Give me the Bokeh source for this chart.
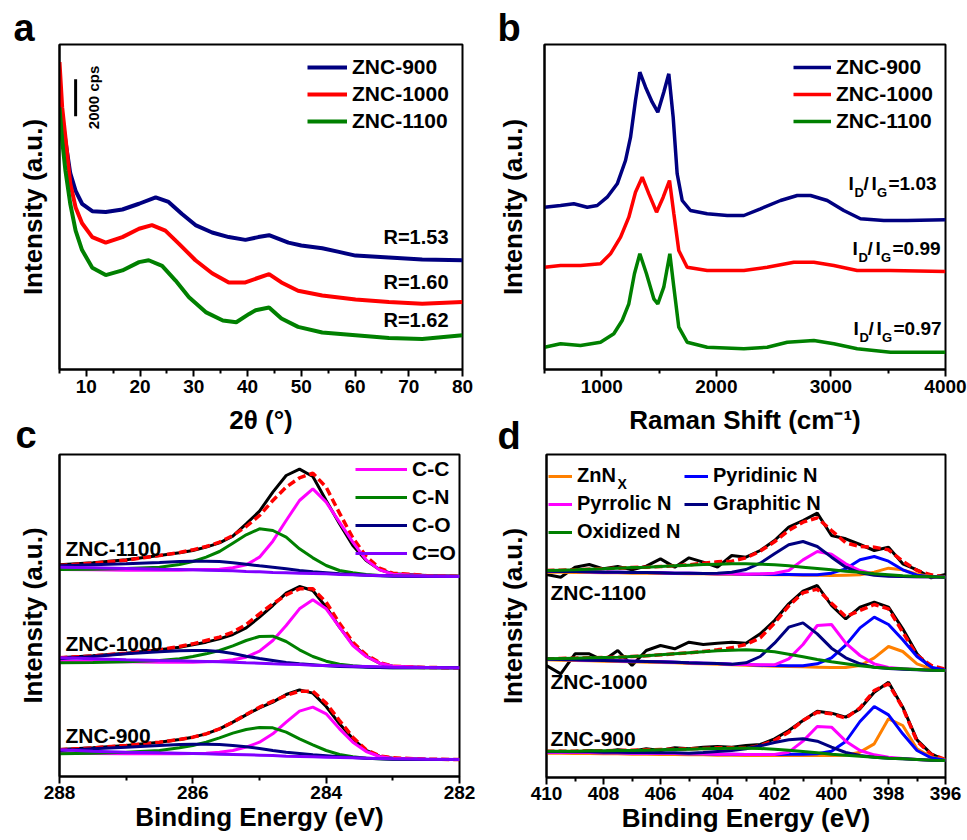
import math
from bokeh.plotting import figure
from bokeh.models import Range1d, Legend, LegendItem, Label, FixedTicker
from bokeh.layouts import row, column
from bokeh.embed import file_html
from bokeh.resources import INLINE

FONT = "Liberation Sans"
NAVY = "#000080"
RED = "#FF0000"
GREEN = "#008000"
MAGENTA = "#FF00FF"
PURPLE = "#8000FF"
BLUE = "#0000FF"
ORANGE = "#FF8000"

# ---------------- Panel a : XRD (cps) ----------------
a_ticks = [10, 20, 30, 40, 50, 60, 70, 80]
a_minor = [5, 15, 25, 35, 45, 55, 65, 75]
a_x_900 = [5, 6.1, 7, 8, 9.2, 11.1, 13.6, 16.7, 19.8, 22.9, 25.3, 27.8, 30.3, 33.4, 36.5, 39.6, 42, 44, 47.6, 50, 53.9, 57, 60.1, 66.3, 72.5, 80]
a_y_900 = [14550, 12350, 10600, 9650, 8950, 8550, 8500, 8640, 8950, 9300, 9050, 8400, 7800, 7400, 7150, 7000, 7150, 7250, 6850, 6700, 6550, 6350, 6150, 6050, 5940, 5900]
a_x_1000 = [5, 5.5, 6.1, 7, 8, 9.2, 11.1, 13.6, 16.7, 19.8, 22.2, 24.7, 27.2, 30.3, 33.4, 36.5, 39.6, 41.5, 44, 46.3, 49.4, 53.9, 60.1, 66.3, 72.5, 80]
a_y_1000 = [16600, 14150, 12550, 10050, 8750, 7900, 7150, 6850, 7150, 7600, 7800, 7500, 6800, 5900, 5200, 4700, 4700, 4900, 5150, 4700, 4250, 4000, 3780, 3650, 3550, 3650]
a_x_1100 = [5, 5.5, 6.1, 7, 8, 9.2, 11.1, 13.6, 16.7, 19.8, 21.6, 24.1, 26.6, 29.1, 32.2, 35.4, 37.9, 40.3, 41.5, 44, 46.3, 49.4, 53.9, 60.1, 66.3, 72.5, 80]
a_y_1100 = [14150, 12350, 10750, 8950, 7500, 6450, 5500, 5100, 5350, 5800, 5900, 5600, 4800, 3900, 3100, 2650, 2550, 3000, 3200, 3350, 2750, 2300, 2000, 1850, 1700, 1650, 1850]
a_ratio_labels = ["R=1.53", "R=1.60", "R=1.62"]
a_ratio_y = [7150, 4700, 2700]
a_scale_x = [8]
a_scale_y = [13680, 15680]   # 2000 cps bar

# ---------------- Panel b : Raman ----------------
b_ticks = [1000, 2000, 3000, 4000]
b_minor = [500, 1500, 2500, 3500]
b_x_900 = [500, 640, 756, 873, 960, 1047, 1135, 1207, 1251, 1294, 1332, 1382, 1440, 1489, 1541, 1585, 1623, 1658, 1702, 1774, 1920, 2095, 2240, 2385, 2560, 2706, 2822, 2968, 3112, 3258, 3462, 3666, 4000]
b_y_900 = [1623, 1640, 1657, 1623, 1640, 1723, 1857, 2090, 2323, 2690, 2973, 2823, 2673, 2573, 2773, 2957, 2523, 1957, 1690, 1590, 1557, 1540, 1540, 1607, 1690, 1740, 1740, 1690, 1590, 1507, 1490, 1490, 1497]
b_x_1000 = [500, 640, 814, 989, 1076, 1164, 1236, 1294, 1353, 1411, 1478, 1536, 1591, 1629, 1672, 1745, 1920, 2240, 2444, 2676, 2851, 3025, 3229, 3520, 4000]
b_y_1000 = [1023, 1040, 1040, 1057, 1157, 1323, 1523, 1773, 1923, 1757, 1573, 1723, 1890, 1557, 1190, 1023, 990, 990, 1023, 1073, 1073, 1040, 990, 990, 980]
b_x_1100 = [500, 640, 814, 989, 1105, 1178, 1236, 1285, 1332, 1390, 1454, 1489, 1541, 1594, 1629, 1672, 1745, 1920, 2240, 2444, 2619, 2851, 3025, 3229, 3520, 4000]
b_y_1100 = [223, 257, 240, 273, 357, 490, 657, 957, 1157, 957, 707, 657, 823, 1157, 823, 423, 273, 223, 207, 223, 273, 290, 257, 207, 173, 173]
b_ratio_values = ["1.03", "0.99", "0.97"]
b_ratio_x = [3153, 3188, 3197]
b_ratio_y = [1860, 1210, 410]

# ---------------- Panel c : C 1s XPS ----------------
c_ticks = [288, 286, 284, 282]
c_minor = [287, 285, 283]
c_x = [288, 287.5, 287, 286.5, 286.2, 286.0, 285.8, 285.6, 285.4, 285.2, 285.0, 284.8, 284.6, 284.4, 284.2, 284.0, 283.8, 283.6, 283.4, 283.2, 283.0, 282.5, 282.0]
c_1100_raw = [635, 641, 650, 663, 671, 678, 688, 701, 721, 758, 796, 853, 903, 922, 900, 828, 758, 693, 648, 621, 608, 603, 601]
c_1100_fit = [633, 640, 649, 663, 672, 680, 690, 703, 723, 750, 783, 828, 868, 896, 910, 868, 790, 716, 660, 625, 610, 603, 601]
c_1100_cc = [621, 620, 619, 619, 619, 620, 621, 622, 626, 635, 658, 706, 768, 828, 863, 823, 763, 703, 650, 620, 607, 602, 601]
c_1100_cn = [621, 622, 624, 628, 636, 645, 658, 675, 700, 725, 743, 738, 718, 683, 656, 633, 618, 611, 606, 603, 602, 601, 601]
c_1100_co = [632, 635, 638, 642, 645, 646, 646, 645, 641, 637, 632, 628, 623, 618, 614, 611, 608, 606, 604, 602, 601, 600, 600]
c_1100_c2o = [628, 626, 624, 622, 621, 620, 619, 618, 617, 615, 614, 612, 611, 610, 609, 608, 606, 605, 604, 603, 602, 601, 600]
c_1000_raw = [356, 362, 370, 380, 388, 395, 403, 413, 426, 446, 478, 513, 550, 570, 558, 508, 448, 396, 361, 340, 331, 327, 326]
c_1000_fit = [356, 362, 370, 380, 390, 398, 408, 418, 433, 456, 488, 518, 545, 563, 563, 523, 460, 403, 365, 342, 331, 327, 326]
c_1000_cc = [346, 345, 344, 343, 343, 343, 344, 346, 350, 358, 376, 408, 453, 503, 530, 503, 448, 393, 360, 340, 331, 327, 326]
c_1000_cn = [341, 342, 344, 348, 353, 360, 368, 378, 392, 408, 420, 421, 405, 380, 360, 346, 337, 332, 329, 327, 326, 326, 326]
c_1000_co = [353, 360, 368, 374, 377, 378, 378, 375, 369, 361, 354, 348, 342, 338, 335, 332, 330, 329, 328, 327, 326, 326, 326]
c_1000_c2o = [356, 353, 350, 348, 347, 346, 345, 344, 343, 341, 340, 338, 337, 336, 334, 333, 332, 331, 330, 329, 328, 327, 326]
c_900_raw = [81, 86, 93, 103, 111, 118, 128, 143, 163, 185, 206, 223, 246, 260, 250, 210, 158, 113, 78, 61, 55, 52, 51]
c_900_fit = [80, 86, 93, 103, 111, 118, 128, 143, 163, 186, 208, 226, 243, 256, 256, 220, 168, 118, 80, 62, 56, 52, 51]
c_900_cc = [70, 69, 68, 68, 68, 69, 70, 73, 78, 88, 103, 128, 163, 196, 208, 188, 143, 103, 75, 60, 54, 52, 51]
c_900_cn = [68, 70, 73, 78, 86, 93, 103, 116, 130, 141, 147, 146, 133, 113, 95, 78, 66, 59, 55, 53, 52, 51, 51]
c_900_co = [78, 83, 88, 93, 96, 97, 97, 96, 93, 89, 84, 78, 73, 69, 65, 62, 59, 57, 55, 53, 52, 51, 51]
c_900_c2o = [80, 76, 73, 71, 70, 69, 68, 67, 66, 65, 64, 63, 61, 60, 59, 58, 57, 56, 55, 54, 53, 52, 51]
c_groups = ["ZNC-1100", "ZNC-1000", "ZNC-900"]
c_group_y = [685, 400, 123]
c_components = ["C-C", "C-N", "C-O", "C=O"]

# ---------------- Panel d : N 1s XPS ----------------
d_ticks = [410, 408, 406, 404, 402, 400, 398, 396]
d_minor = [409, 407, 405, 403, 401, 399, 397]
d_x = [410, 409.5, 409, 408.5, 408, 407.5, 407, 406.5, 406, 405.5, 405, 404.5, 404, 403.5, 403,
       402.5, 402, 401.5, 401, 400.5, 400, 399.5, 399, 398.5, 398, 397.5, 397, 396.5, 396]
d_1100_raw = [609, 601, 631, 639, 626, 633, 623, 634, 656, 631, 659, 646, 631, 666, 661, 681, 711, 751, 771, 793, 726, 716, 699, 681, 691, 641, 623, 599, 609]
d_1100_fit = [621, 622, 623, 625, 626, 628, 630, 631, 633, 635, 638, 643, 647, 649, 659, 679, 707, 741, 766, 779, 741, 704, 693, 691, 683, 649, 621, 608, 601]
d_1100_znnx = [616, 616, 615, 615, 614, 614, 613, 613, 612, 612, 611, 611, 610, 610, 609, 609, 608, 608, 607, 607, 606, 607, 608, 616, 628, 623, 610, 603, 601]
d_1100_pyridinic = [619, 618, 618, 617, 616, 616, 615, 615, 614, 613, 613, 612, 611, 611, 610, 610, 609, 609, 608, 608, 613, 626, 653, 663, 649, 623, 607, 602, 601]
d_1100_pyrrolic = [619, 618, 618, 617, 616, 616, 615, 615, 614, 613, 613, 612, 611, 611, 610, 611, 613, 621, 653, 678, 670, 641, 621, 610, 605, 603, 602, 602, 601]
d_1100_graphitic = [619, 618, 618, 617, 616, 616, 615, 615, 614, 613, 613, 612, 613, 616, 624, 643, 671, 698, 708, 693, 661, 631, 614, 607, 604, 603, 602, 602, 601]
d_1100_oxidized = [621, 622, 623, 625, 626, 628, 630, 631, 633, 635, 637, 639, 640, 641, 641, 640, 638, 635, 631, 627, 623, 619, 616, 611, 608, 605, 603, 602, 601]
d_1000_raw = [336, 311, 371, 371, 351, 381, 336, 381, 396, 386, 406, 399, 403, 406, 403, 431, 471, 521, 559, 576, 516, 476, 511, 526, 511, 446, 371, 326, 321]
d_1000_fit = [356, 357, 358, 359, 360, 361, 363, 365, 368, 371, 374, 378, 383, 389, 399, 419, 463, 515, 554, 565, 523, 483, 501, 519, 506, 436, 366, 336, 325]
d_1000_znnx = [353, 352, 351, 350, 349, 348, 347, 346, 345, 344, 342, 341, 340, 338, 337, 335, 334, 333, 332, 331, 330, 330, 336, 359, 393, 378, 341, 326, 321]
d_1000_pyridinic = [355, 354, 353, 352, 351, 350, 349, 348, 347, 346, 344, 343, 342, 340, 339, 337, 336, 335, 335, 341, 359, 397, 449, 481, 459, 413, 363, 331, 322]
d_1000_pyrrolic = [355, 354, 353, 352, 351, 350, 349, 348, 347, 346, 344, 343, 342, 340, 339, 338, 338, 356, 399, 456, 459, 403, 366, 341, 330, 326, 324, 322, 321]
d_1000_graphitic = [355, 354, 353, 352, 351, 350, 349, 348, 347, 346, 344, 343, 342, 340, 344, 363, 403, 451, 464, 431, 388, 359, 341, 331, 327, 325, 323, 322, 321]
d_1000_oxidized = [356, 357, 358, 359, 360, 361, 363, 365, 368, 371, 374, 377, 380, 382, 383, 381, 377, 370, 362, 354, 347, 341, 335, 331, 328, 326, 324, 322, 321]
d_900_raw = [74, 79, 73, 81, 77, 83, 79, 86, 81, 89, 86, 91, 93, 91, 96, 99, 116, 141, 171, 199, 193, 181, 206, 256, 286, 211, 113, 71, 51]
d_900_fit = [79, 79, 79, 80, 80, 81, 82, 83, 84, 85, 86, 87, 89, 89, 88, 96, 111, 136, 171, 196, 191, 178, 209, 261, 281, 209, 109, 69, 54]
d_900_znnx = [73, 73, 72, 72, 71, 71, 70, 70, 69, 69, 68, 68, 67, 67, 66, 66, 66, 66, 66, 66, 66, 67, 76, 101, 176, 156, 86, 61, 53]
d_900_pyridinic = [76, 76, 75, 75, 74, 74, 73, 73, 72, 72, 71, 71, 70, 70, 69, 69, 69, 70, 70, 71, 79, 108, 168, 213, 188, 131, 81, 59, 52]
d_900_pyrrolic = [76, 76, 75, 75, 74, 74, 73, 73, 72, 72, 71, 71, 70, 70, 69, 69, 69, 76, 109, 153, 151, 109, 81, 68, 61, 57, 54, 52, 51]
d_900_graphitic = [78, 78, 77, 77, 76, 76, 75, 75, 74, 74, 73, 75, 78, 81, 86, 95, 105, 113, 116, 109, 91, 75, 66, 61, 58, 56, 54, 52, 51]
d_900_oxidized = [79, 79, 79, 80, 80, 81, 81, 82, 83, 84, 85, 86, 87, 88, 88, 87, 85, 82, 78, 74, 70, 67, 64, 61, 58, 56, 54, 52, 51]
d_groups = ["ZNC-1100", "ZNC-1000", "ZNC-900"]
d_group_y = [554, 288, 116]


def base_fig(frame_w, frame_h, borders, xr, yr, major, minor, ylab_standoff,
             xlabel, tick_standoff, xlab_standoff, letter, letter_offset, letter_standoff):
    bl, br, bt, bb = borders
    p = figure(frame_width=frame_w, frame_height=frame_h, x_range=xr, y_range=yr,
               output_backend="svg", toolbar_location=None,
               min_border_left=bl, min_border_right=br,
               min_border_top=bt, min_border_bottom=bb)
    p.grid.visible = False
    p.outline_line_color = "black"
    p.outline_line_width = 2
    p.outline_line_alpha = 1
    p.background_fill_color = "white"
    p.border_fill_alpha = 0
    # panel letter as the figure title
    p.title.text = letter
    p.title.align = "left"
    p.title.vertical_align = "bottom"
    p.title.offset = letter_offset
    p.title.standoff = letter_standoff
    p.title.text_font = FONT
    p.title.text_font_size = "38px"
    p.title.text_font_style = "bold"
    p.title.text_color = "black"
    p.title.text_line_height = 1.0
    xa = p.xaxis[0]
    xa.ticker = FixedTicker(ticks=major, minor_ticks=minor)
    xa.axis_line_width = 2
    xa.axis_line_color = "black"
    xa.major_tick_line_width = 2
    xa.minor_tick_line_width = 2
    xa.major_tick_line_color = "black"
    xa.minor_tick_line_color = "black"
    xa.major_tick_out = 7
    xa.major_tick_in = 0
    xa.minor_tick_out = 4
    xa.minor_tick_in = 0
    xa.major_label_text_font = FONT
    xa.major_label_text_font_size = "19px"
    xa.major_label_text_font_style = "bold"
    xa.major_label_text_color = "black"
    xa.major_label_text_line_height = 1.0
    xa.major_label_standoff = tick_standoff
    xa.axis_label = xlabel
    xa.axis_label_text_font = FONT
    xa.axis_label_text_font_size = "26px"
    xa.axis_label_text_font_style = "bold"
    xa.axis_label_text_color = "black"
    xa.axis_label_text_line_height = 1.0
    xa.axis_label_standoff = xlab_standoff
    ya = p.yaxis[0]
    ya.ticker = FixedTicker(ticks=[])
    ya.major_tick_out = 0
    ya.major_tick_in = 0
    ya.minor_tick_out = 0
    ya.minor_tick_in = 0
    ya.axis_line_width = 2
    ya.axis_line_color = "black"
    ya.axis_label = "Intensity (a.u.)"
    ya.axis_label_text_font = FONT
    ya.axis_label_text_font_size = "26px"
    ya.axis_label_text_font_style = "bold"
    ya.axis_label_text_color = "black"
    ya.axis_label_text_line_height = 1.0
    ya.axis_label_standoff = ylab_standoff
    return p


def add_label(p, text, x, y, size, units="data", align="left", baseline="middle",
              angle=0.0, xo=0, yo=0):
    lab = Label(x=x, y=y, x_units=units, y_units=units, text=text,
                text_font=FONT, text_font_size=f"{size}px", text_font_style="bold",
                text_color="black", text_align=align, text_baseline=baseline,
                angle=angle, x_offset=xo, y_offset=yo)
    p.add_layout(lab)


def add_legend(p, items, loc, glyph_w, size, spacing):
    leg = Legend(items=items, location=loc, glyph_width=glyph_w, glyph_height=20,
                 label_height=20, label_width=10, label_standoff=5, spacing=spacing,
                 padding=0, margin=0, border_line_alpha=0, background_fill_alpha=0,
                 label_text_font=FONT, label_text_font_size=f"{size}px",
                 label_text_font_style="bold", label_text_color="black")
    p.add_layout(leg)


# ---------------- figure a ----------------
pa = base_fig(403, 325, (59, 28, 44, 71), Range1d(5, 80), Range1d(0, 17550),
              a_ticks, a_minor, 12, "2θ (°)", 3, 9, "a", -46, -9)
ra1 = pa.line(a_x_900, a_y_900, line_color=NAVY, line_width=4)
ra2 = pa.line(a_x_1000, a_y_1000, line_color=RED, line_width=4)
ra3 = pa.line(a_x_1100, a_y_1100, line_color=GREEN, line_width=4)
pa.segment(x0=a_scale_x, y0=[a_scale_y[0]], x1=a_scale_x, y1=[a_scale_y[1]],
           line_color="black", line_width=3)
add_label(pa, "2000 cps", 11.3, 14690, 15, align="center", angle=math.pi / 2)
for t, yy in zip(a_ratio_labels, a_ratio_y):
    add_label(pa, t, 77.4, yy, 20, align="right")
add_legend(pa, [LegendItem(label="ZNC-900", renderers=[ra1]),
                LegendItem(label="ZNC-1000", renderers=[ra2]),
                LegendItem(label="ZNC-1100", renderers=[ra3])],
           (248, 236), 40, 21, 3)

# ---------------- figure b ----------------
pb = base_fig(401, 325, (54, 22, 44, 71), Range1d(500, 4000), Range1d(0, 3250),
              b_ticks, b_minor, 17, "Raman Shift (cm⁻¹)", 3, 9, "b", -47, -9)
rb1 = pb.line(b_x_900, b_y_900, line_color=NAVY, line_width=3.5)
rb2 = pb.line(b_x_1000, b_y_1000, line_color=RED, line_width=3.5)
rb3 = pb.line(b_x_1100, b_y_1100, line_color=GREEN, line_width=3.5)
for val, xx, yy in zip(b_ratio_values, b_ratio_x, b_ratio_y):
    for t, dx, dy, s in [("I", 0, 0, 19), ("D", 6, -9, 13), ("/", 15, 0, 19),
                         ("I", 23, 0, 19), ("G", 28.5, -9, 13), ("=" + val, 40, 0, 19)]:
        add_label(pb, t, xx, yy, s, xo=dx, yo=dy)
add_legend(pb, [LegendItem(label="ZNC-900", renderers=[rb1]),
                LegendItem(label="ZNC-1000", renderers=[rb2]),
                LegendItem(label="ZNC-1100", renderers=[rb3])],
           (249, 236), 38, 21, 3)

# ---------------- figure c ----------------
pc = base_fig(400, 322, (59, 31, 44, 56), Range1d(288, 282), Range1d(0, 966),
              c_ticks, c_minor, 12, "Binding Energy (eV)", 2, 0, "c", -44, -2)
c_sets = [
    (c_1100_raw, c_1100_fit, c_1100_cc, c_1100_cn, c_1100_co, c_1100_c2o),
    (c_1000_raw, c_1000_fit, c_1000_cc, c_1000_cn, c_1000_co, c_1000_c2o),
    (c_900_raw, c_900_fit, c_900_cc, c_900_cn, c_900_co, c_900_c2o),
]
c_leg_r = None
for raw, fit, cc, cn, co, c2o in c_sets:
    pc.line(c_x, raw, line_color="black", line_width=3)
    pc.line(c_x, fit, line_color=RED, line_width=3.5, line_dash="8 4")
    r1 = pc.line(c_x, cc, line_color=MAGENTA, line_width=3)
    r2 = pc.line(c_x, cn, line_color=GREEN, line_width=3)
    r3 = pc.line(c_x, co, line_color=NAVY, line_width=3)
    r4 = pc.line(c_x, c2o, line_color=PURPLE, line_width=3)
    if c_leg_r is None:
        c_leg_r = [r1, r2, r3, r4]
for g, yy in zip(c_groups, c_group_y):
    add_label(pc, g, 287.91, yy, 21)
add_legend(pc, [LegendItem(label=lab_, renderers=[r]) for lab_, r in zip(c_components, c_leg_r)],
           (296, 211), 52, 21, 4)

# ---------------- figure d ----------------
pd_ = base_fig(399, 323, (56, 22, 44, 56), Range1d(410, 396), Range1d(0, 969),
               d_ticks, d_minor, 19, "Binding Energy (eV)", 2, 0, "d", -49, -4)
d_sets = [
    (d_1100_raw, d_1100_fit, d_1100_znnx, d_1100_pyridinic, d_1100_pyrrolic, d_1100_graphitic, d_1100_oxidized),
    (d_1000_raw, d_1000_fit, d_1000_znnx, d_1000_pyridinic, d_1000_pyrrolic, d_1000_graphitic, d_1000_oxidized),
    (d_900_raw, d_900_fit, d_900_znnx, d_900_pyridinic, d_900_pyrrolic, d_900_graphitic, d_900_oxidized),
]
d_leg_r = None
for raw, fit, zn, pyd, pyr, gra, oxi in d_sets:
    pd_.line(d_x, raw, line_color="black", line_width=3)
    pd_.line(d_x, fit, line_color=RED, line_width=3.5, line_dash="8 4")
    r1 = pd_.line(d_x, zn, line_color=ORANGE, line_width=3)
    r2 = pd_.line(d_x, pyd, line_color=BLUE, line_width=3)
    r3 = pd_.line(d_x, pyr, line_color=MAGENTA, line_width=3)
    r4 = pd_.line(d_x, gra, line_color=NAVY, line_width=3)
    r5 = pd_.line(d_x, oxi, line_color=GREEN, line_width=3)
    if d_leg_r is None:
        d_leg_r = [r1, r2, r3, r4, r5]
for g, yy in zip(d_groups, d_group_y):
    add_label(pd_, g, 409.86, yy, 21)
add_legend(pd_, [LegendItem(label="ZnN", renderers=[d_leg_r[0]]),
                 LegendItem(label="Pyrrolic N", renderers=[d_leg_r[2]]),
                 LegendItem(label="Oxidized N", renderers=[d_leg_r[4]])],
           (2, 234), 24, 20, 5)
add_legend(pd_, [LegendItem(label="Pyridinic N", renderers=[d_leg_r[1]]),
                 LegendItem(label="Graphitic N", renderers=[d_leg_r[3]])],
           (138, 262), 24, 20, 5)
add_label(pd_, "X", 71, 294, 14, units="screen")

layout = column(row(pa, pb), row(pc, pd_, margin=(-30, 0, 0, 0)))
open("out.html", "w").write(file_html(layout, INLINE))
